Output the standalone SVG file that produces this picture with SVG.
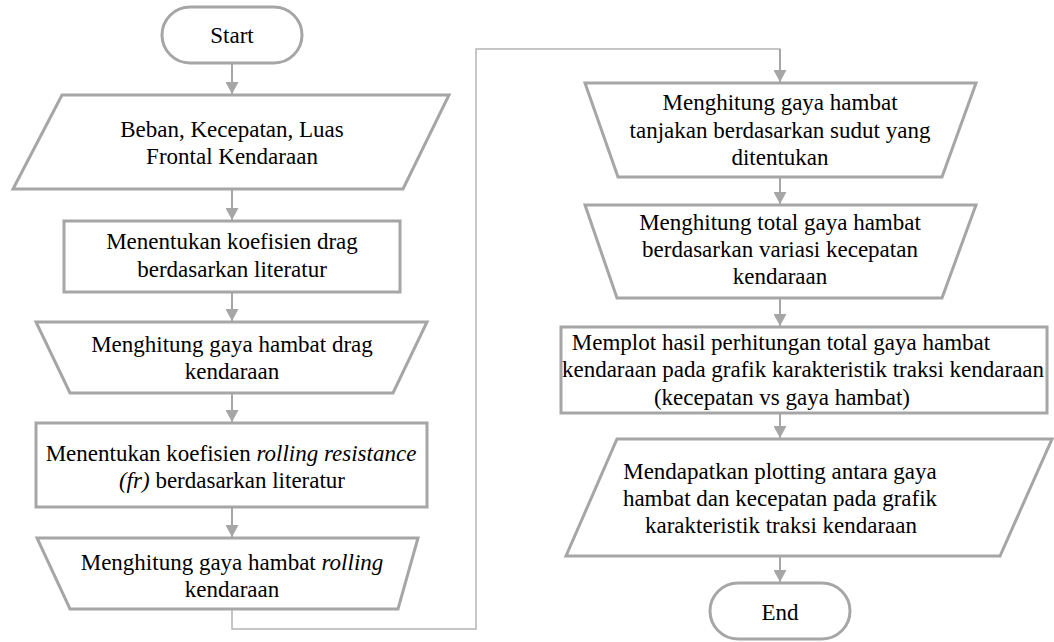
<svg xmlns="http://www.w3.org/2000/svg" width="1054" height="642" viewBox="0 0 1054 642">
  <style>
    .shape { fill: #ffffff; stroke: #a6a6a6; stroke-width: 3; stroke-linejoin: miter; }
    .flow { fill: none; stroke: #a6a6a6; stroke-width: 2; }
    .link { fill: none; stroke: #b4b4b4; stroke-width: 1.5; }
    .label { font-family: "Liberation Serif"; font-size: 23px; fill: #000000; text-anchor: middle; }
    .it { font-style: italic; }
  </style>
  <defs>
    <marker id="arrow" markerUnits="userSpaceOnUse" markerWidth="13" markerHeight="13" refX="12" refY="6.5" orient="auto">
      <path d="M0,0 L12,6.5 L0,13 Z" fill="#a6a6a6"/>
    </marker>
  </defs>
  <rect width="1054" height="642" fill="#ffffff"/>

  <!-- connectors -->
  <g id="connectors">
    <line class="flow" x1="232" y1="63" x2="232" y2="94" marker-end="url(#arrow)"/>
    <line class="flow" x1="232" y1="189" x2="232" y2="220" marker-end="url(#arrow)"/>
    <line class="flow" x1="232" y1="292" x2="232" y2="321" marker-end="url(#arrow)"/>
    <line class="flow" x1="232" y1="393" x2="232" y2="422" marker-end="url(#arrow)"/>
    <line class="flow" x1="232" y1="508" x2="232" y2="537" marker-end="url(#arrow)"/>
    <polyline class="link" points="232,609 232,629 476,629 476,49 780,49 780,60"/>
    <line class="flow" x1="780" y1="49" x2="780" y2="82" marker-end="url(#arrow)"/>
    <line class="flow" x1="780" y1="177" x2="780" y2="204" marker-end="url(#arrow)"/>
    <line class="flow" x1="780" y1="298" x2="780" y2="326" marker-end="url(#arrow)"/>
    <line class="flow" x1="780" y1="413" x2="780" y2="438" marker-end="url(#arrow)"/>
    <line class="flow" x1="780" y1="556" x2="780" y2="582" marker-end="url(#arrow)"/>
  </g>

  <!-- left column -->
  <g id="start">
    <rect class="shape" x="162" y="7" width="140" height="56" rx="28" ry="28"/>
    <text class="label" x="232" y="43">Start</text>
  </g>

  <g id="input-data">
    <polygon class="shape" points="62,95 449,95 403,189 13,189"/>
    <text class="label" x="232" y="137">Beban, Kecepatan, Luas</text>
    <text class="label" x="232" y="164">Frontal Kendaraan</text>
  </g>

  <g id="drag-coefficient">
    <rect class="shape" x="64" y="221" width="336" height="71"/>
    <text class="label" x="232" y="249">Menentukan koefisien drag</text>
    <text class="label" x="232" y="277">berdasarkan literatur</text>
  </g>

  <g id="drag-force">
    <polygon class="shape" points="36,322 427,322 393,393 70,393"/>
    <text class="label" x="232" y="352">Menghitung gaya hambat drag</text>
    <text class="label" x="232" y="379">kendaraan</text>
  </g>

  <g id="rolling-coefficient">
    <rect class="shape" x="36" y="423" width="391" height="84"/>
    <text class="label" x="231" y="461">Menentukan koefisien <tspan class="it">rolling resistance</tspan></text>
    <text class="label" x="232" y="488"><tspan class="it">(fr)</tspan> berdasarkan literatur</text>
  </g>

  <g id="rolling-force">
    <polygon class="shape" points="37,538 418,538 398,609 70,609"/>
    <text class="label" x="232" y="570">Menghitung gaya hambat <tspan class="it">rolling</tspan></text>
    <text class="label" x="232" y="597">kendaraan</text>
  </g>

  <!-- right column -->
  <g id="grade-force">
    <polygon class="shape" points="585,83 976,83 942,177 618,177"/>
    <text class="label" x="780" y="110">Menghitung gaya hambat</text>
    <text class="label" x="780" y="138">tanjakan berdasarkan sudut yang</text>
    <text class="label" x="780" y="165">ditentukan</text>
  </g>

  <g id="total-force">
    <polygon class="shape" points="585,205 976,205 942,298 617,298"/>
    <text class="label" x="780" y="230">Menghitung total gaya hambat</text>
    <text class="label" x="780" y="257">berdasarkan variasi kecepatan</text>
    <text class="label" x="780" y="284">kendaraan</text>
  </g>

  <g id="plot-result">
    <rect class="shape" x="561" y="327" width="486" height="86"/>
    <text class="label" x="781" y="350">Memplot hasil perhitungan total gaya hambat</text>
    <text class="label" x="803" y="377">kendaraan pada grafik karakteristik traksi kendaraan</text>
    <text class="label" x="782" y="405">(kecepatan vs gaya hambat)</text>
  </g>

  <g id="output-plot">
    <polygon class="shape" points="617,439 1052,439 1000,556 566,556"/>
    <text class="label" x="780" y="479">Mendapatkan plotting antara gaya</text>
    <text class="label" x="780" y="506">hambat dan kecepatan pada grafik</text>
    <text class="label" x="781" y="533">karakteristik traksi kendaraan</text>
  </g>

  <g id="end">
    <rect class="shape" x="710" y="583" width="140" height="56" rx="28" ry="28"/>
    <text class="label" x="780" y="620">End</text>
  </g>
</svg>
